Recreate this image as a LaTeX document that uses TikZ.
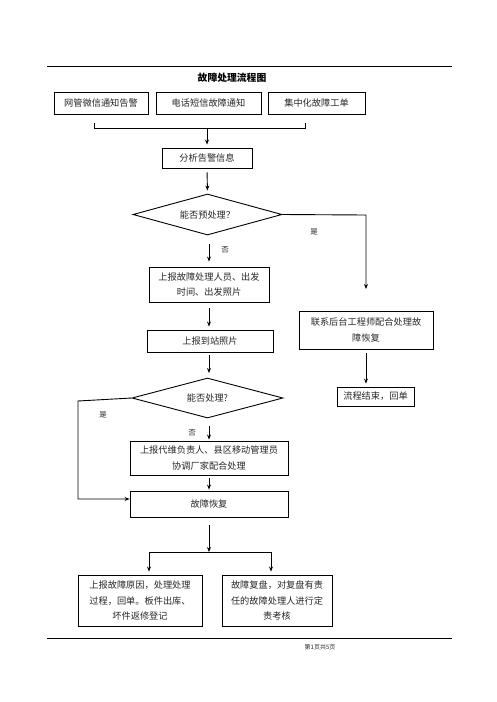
\documentclass[tikz,border=0pt]{standalone}
\usepackage{fontspec}
\setmainfont{Noto Sans CJK SC}
\usetikzlibrary{shapes.geometric,arrows.meta}
\begin{document}
\begin{tikzpicture}[x=1pt,y=-1pt,
  every node/.style={font=\fontsize{9.2}{15.5}\selectfont, text=black!85},
  box/.style={draw=black, line width=0.9pt, inner sep=0pt, align=center},
  dia/.style={draw=black, line width=0.9pt, diamond, inner sep=0pt, aspect=3.6},
  conn/.style={line width=0.9pt, draw=black},
  arr/.style={conn, -{Stealth[length=5pt,width=4pt]}},
  lbl/.style={font=\fontsize{7.5}{9}\selectfont}]
\useasboundingbox (0,0) rectangle (496,702);
% rules
\coordinate (t1) at (47,66); \coordinate (t2) at (452,66);
\draw[line width=0.9pt] (t1) -- (t2);
\coordinate (u1) at (47,638); \coordinate (u2) at (452,638);
\draw[line width=0.9pt] (u1) -- (u2);
\node[font=\fontsize{9.8}{12}\selectfont\bfseries, text=black] (title) at (232,78) {故障处理流程图};
\node[font=\fontsize{6}{8}\selectfont] (foot) at (320,647) {第1页共5页};
% top boxes
\node[box, minimum width=94pt, minimum height=22pt] (b1) at (101,103) {网管微信通知告警};
\node[box, minimum width=105pt, minimum height=22pt] (b2) at (208.5,103) {电话短信故障通知};
\node[box, minimum width=97pt, minimum height=22pt] (b3) at (316.5,103) {集中化故障工单};
\coordinate (k1) at (94,123); \coordinate (k2) at (94,128);
\coordinate (k3) at (305,128); \coordinate (k4) at (305,123);
\coordinate (km) at (207,128);
\draw[conn] (k1) -- (k2) -- (k3) -- (k4);
\node[box, minimum width=90pt, minimum height=20pt] (an) at (207,158) {分析告警信息};
\draw[arr, shorten >=3pt] (km) -- (an.north);
\node[dia, minimum width=149pt, minimum height=41pt] (d1) at (207.5,214.5) {能否预处理？};
\draw[arr, shorten <=4pt, shorten >=3pt] (an.south) -- (d1.north);
% right branch
\coordinate (r1) at (366,215); \coordinate (r2) at (366,289);
\draw[arr] (d1.east) -- (r1) -- (r2);
\node[lbl] (yes1) at (314,232) {是};
\node[box, minimum width=134pt, minimum height=38pt] (rb) at (366,330) {联系后台工程师配合处理故\\障恢复};
\node[box, minimum width=77pt, minimum height=19pt] (end) at (375.5,396.5) {流程结束，回单};
\draw[arr, shorten <=4pt, shorten >=3pt] (rb.south -| 366,0) -- (end.north -| 366,0);
% main column
\node[box, minimum width=120pt, minimum height=35pt] (rp1) at (209,284.5) {上报故障处理人员、出发\\时间、出发照片};
\draw[arr, shorten <=9pt, shorten >=5pt] (d1.south -| rp1.north) -- (rp1.north);
\node[lbl] (no1) at (225,250) {否};
\node[box, minimum width=126pt, minimum height=22pt] (rp2) at (210,341) {上报到站照片};
\draw[arr, shorten <=6pt, shorten >=3pt] (rp1.south) -- (rp1.south |- rp2.north);
\node[dia, minimum width=151pt, minimum height=40pt] (d2) at (207.5,398) {能否处理?};
\draw[arr, shorten <=3pt, shorten >=5pt] (rp2.south -| 209,0) -- (209,378);
\node[box, minimum width=158pt, minimum height=34pt] (rp3) at (209,458) {上报代维负责人、县区移动管理员\\协调厂家配合处理};
\draw[arr, shorten <=8pt, shorten >=1pt] (209,418) -- (rp3.north);
\node[lbl] (no2) at (192,433) {否};
\node[box, minimum width=158pt, minimum height=26pt] (rec) at (209,504) {故障恢复};
\draw[arr, shorten <=3pt, shorten >=1pt] (rp3.south) -- (rec.north);
% left branch
\coordinate (l1) at (78,401); \coordinate (l2) at (78,499);
\draw[arr] (d2.west) -- (l1) -- (l2) -- (l2 -| rec.west);
\node[lbl] (yes2) at (103,415) {是};
% bottom split
\coordinate (s0) at (209,552);
\coordinate (sl) at (149,552); \coordinate (sr) at (271,552);
\node[box, minimum width=124pt, minimum height=51pt] (lb) at (140,600.5) {上报故障原因，处理处理\\过程，回单。板件出库、\\坏件返修登记};
\node[box, minimum width=110pt, minimum height=51pt] (rbb) at (277,600.5) {故障复盘，对复盘有责\\任的故障处理人进行定\\责考核};
\draw[arr, shorten <=8pt] (rec.south) -- (s0);
\draw[conn] (sl) -- (sr);
\draw[arr, shorten >=3pt] (sl) -- (sl |- lb.north);
\draw[arr, shorten >=3pt] (sr) -- (sr |- rbb.north);
\end{tikzpicture}
\end{document}
